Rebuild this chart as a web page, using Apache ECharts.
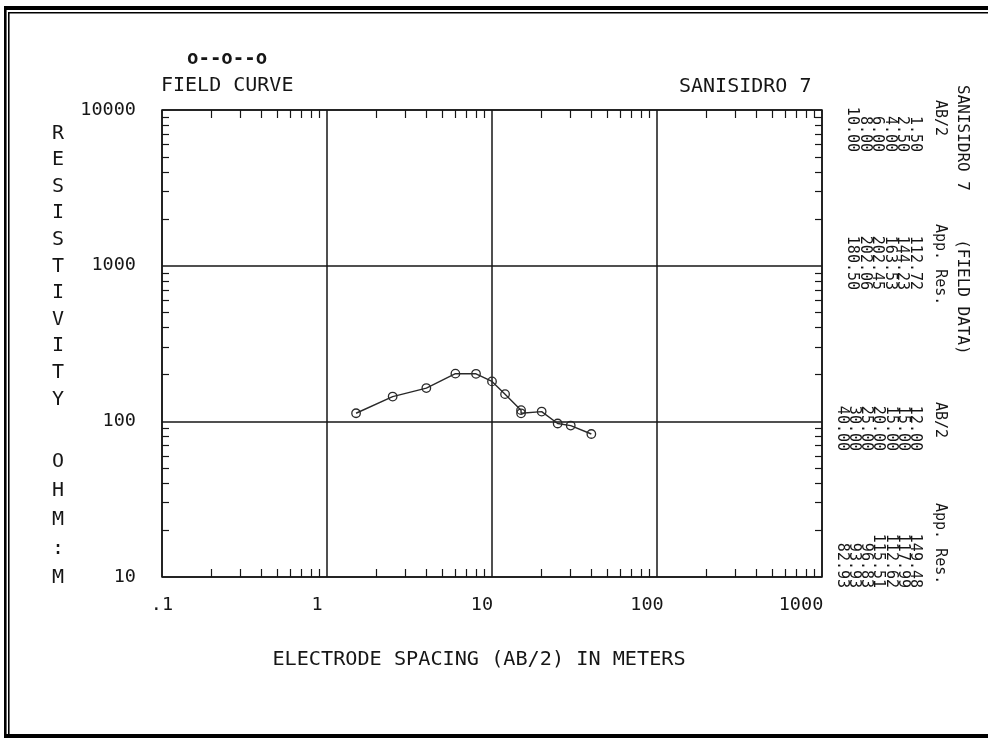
<!DOCTYPE html>
<html>
<head>
<meta charset="utf-8">
<title>SANISIDRO 7 - Field Curve</title>
<script src="https://cdn.jsdelivr.net/npm/echarts@6/dist/echarts.min.js"></script>
<style>
  html, body { margin: 0; padding: 0; background: #fff; }
  #chart { width: 988px; height: 738px; }
</style>
</head>
<body>
<div id="chart"></div>
<script>
// ---- data ----
const ab2 = [1.5, 2.5, 4, 6, 8, 10, 12, 15, 15, 20, 25, 30, 40];
const appRes = [112.72, 144.23, 163.53, 202.45, 202.06, 180.50, 149.48, 117.99, 112.62, 115.51, 96.83, 93.93, 82.93];
const xTickValues = [0.1, 1, 10, 100, 1000];
const xTickLabels = ['.1', '1', '10', '100', '1000'];
const yTickValues = [10, 100, 1000, 10000];
const yTickLabels = ['10', '100', '1000', '10000'];
const legendSample = 'o--o--o';
const curveTitle = 'FIELD CURVE';
const siteName = 'SANISIDRO 7';
const sideTitle = 'SANISIDRO 7     (FIELD DATA)';
const colHeadSpacing = 'AB/2';
const colHeadRes = 'App. Res.';
const xName = 'ELECTRODE SPACING (AB/2) IN METERS';
const yNameTop = 'RESISTIVITY';
const yNameBottom = 'OHM:M';
const upperRows = [0, 6];   // index range of first table block
const lowerRows = [6, 13];  // index range of second table block

// ---- helpers ----
const FONT = "'DejaVu Sans Mono', 'Liberation Mono', monospace";
const INK = '#161616';

function minorTicks(lo, hi) {
  const out = [];
  for (let d = lo; d < hi; d *= 10) {
    for (let k = 2; k <= 9; k++) out.push(+(k * d).toPrecision(6));
  }
  return out;
}
function lookupIndex(values, v) {
  for (let i = 0; i < values.length; i++) {
    if (Math.abs(values[i] - v) / values[i] < 1e-6) return i;
  }
  return -1;
}
function col(arr, range) {
  return arr.slice(range[0], range[1]).map(v => v.toFixed(2)).join('\n');
}

const points = ab2.map((x, i) => [x, appRes[i]]);

const xMinor = minorTicks(0.1, 1000);
const yMinor = minorTicks(10, 10000);

function rotText(x, y, text, opts) {
  return {
    type: 'text',
    x: x, y: y,
    rotation: -Math.PI / 2,
    silent: true,
    style: Object.assign({
      text: text,
      font: '15px ' + FONT,
      fill: INK,
      align: 'left',
      verticalAlign: 'middle'
    }, opts || {})
  };
}

const chart = echarts.init(document.getElementById('chart'), null, { renderer: 'canvas' });

const xAxisBase = {
  type: 'log', logBase: 10, min: 0.1, max: 1000,
  axisLine: { show: false },
  axisTick: { show: true, inside: true, length: 8, customValues: xMinor,
              lineStyle: { color: INK, width: 1.2 } },
  splitLine: { show: false },
  axisLabel: { show: false }
};
const yAxisBase = {
  type: 'log', logBase: 10, min: 10, max: 10000,
  axisLine: { show: false },
  axisTick: { show: true, inside: true, length: 7, customValues: yMinor,
              lineStyle: { color: INK, width: 1.2 } },
  splitLine: { show: false },
  axisLabel: { show: false }
};
// axes that only carry the decade grid lines
const xGridAxis = {
  type: 'log', logBase: 10, min: 0.1, max: 1000, position: 'bottom',
  axisLine: { show: false }, axisTick: { show: false }, axisLabel: { show: false },
  splitLine: { show: true, lineStyle: { color: INK, width: 1.5 } }
};
const yGridAxis = {
  type: 'log', logBase: 10, min: 10, max: 10000, position: 'left',
  axisLine: { show: false }, axisTick: { show: false }, axisLabel: { show: false },
  splitLine: { show: true, lineStyle: { color: INK, width: 1.5 } }
};

const labelRich = {
  a: { fontFamily: FONT, fontSize: 18.5, color: INK, padding: [0, 0, 0, 0] },
  b: { fontFamily: FONT, fontSize: 18.5, color: INK, padding: [0, 20, 0, 0] },
  c: { fontFamily: FONT, fontSize: 18.5, color: INK, padding: [0, 42, 0, 0] }
};
const labelStyleKey = ['a', 'b', 'b', 'b', 'c'];

const option = {
  backgroundColor: '#fff',
  animation: false,
  textStyle: { fontFamily: FONT, color: INK },
  title: [
    { text: legendSample, left: 187, top: 50, padding: 0,
      textStyle: { fontFamily: FONT, fontSize: 19, fontWeight: 'bold', color: INK } },
    { text: curveTitle, left: 161, top: 76, padding: 0,
      textStyle: { fontFamily: FONT, fontSize: 20, fontWeight: 'normal', color: INK } },
    { text: siteName, left: 679, top: 77, padding: 0,
      textStyle: { fontFamily: FONT, fontSize: 20, fontWeight: 'normal', color: INK } }
  ],
  grid: {
    left: 162, right: 166, top: 110, bottom: 161,
    show: true, borderColor: INK, borderWidth: 1.5, backgroundColor: 'transparent'
  },
  xAxis: [
    Object.assign({}, xAxisBase, {
      position: 'bottom',
      axisLabel: {
        show: true, margin: 19, fontFamily: FONT, fontSize: 18.5, color: INK,
        formatter: v => {
          const i = lookupIndex(xTickValues, v);
          return i < 0 ? '' : '{' + labelStyleKey[i] + '|' + xTickLabels[i] + '}';
        },
        rich: labelRich
      },
      name: xName, nameLocation: 'middle', nameGap: 73,
      nameTextStyle: { fontFamily: FONT, fontSize: 20.2, color: INK, padding: [0, 26, 0, 0] }
    }),
    Object.assign({}, xAxisBase, { position: 'top' }),
    xGridAxis
  ],
  yAxis: [
    Object.assign({}, yAxisBase, {
      position: 'left',
      axisLabel: {
        show: true, margin: 26, fontFamily: FONT, fontSize: 18.5, color: INK,
        formatter: v => {
          const i = lookupIndex(yTickValues, v);
          return i < 0 ? '' : yTickLabels[i];
        }
      }
    }),
    Object.assign({}, yAxisBase, { position: 'right' }),
    yGridAxis
  ],
  series: [{
    name: curveTitle,
    type: 'line',
    data: points,
    xAxisIndex: 0, yAxisIndex: 0,
    symbol: 'circle', symbolSize: 8.5,
    lineStyle: { color: '#2a2a2a', width: 1.4 },
    itemStyle: { color: 'rgba(255,255,255,0)', borderColor: '#2a2a2a', borderWidth: 1.3 },
    emphasis: { disabled: true },
    z: 5
  }],
  graphic: [
    // frame
    { type: 'rect', shape: { x: 4, y: 6, width: 984, height: 4 }, style: { fill: '#000' }, silent: true },
    { type: 'rect', shape: { x: 8, y: 12, width: 980, height: 1.6 }, style: { fill: '#000' }, silent: true },
    { type: 'rect', shape: { x: 4, y: 6, width: 2.6, height: 732 }, style: { fill: '#000' }, silent: true },
    { type: 'rect', shape: { x: 8, y: 12, width: 1.6, height: 724 }, style: { fill: '#000' }, silent: true },
    { type: 'rect', shape: { x: 4, y: 734, width: 984, height: 4 }, style: { fill: '#000' }, silent: true },
    // y-axis title (stacked letters)
    { type: 'text', x: 58, y: 120, silent: true,
      style: { text: yNameTop.split('').join('\n'), font: '20px ' + FONT, fill: INK,
               align: 'center', verticalAlign: 'top', lineHeight: 26.6 } },
    { type: 'text', x: 58, y: 447, silent: true,
      style: { text: yNameBottom.split('').join('\n'), font: '20px ' + FONT, fill: INK,
               align: 'center', verticalAlign: 'top', lineHeight: 29 } },
    // right-hand side data listing (rotated)
    rotText(962, 85, sideTitle, { font: '16px ' + FONT }),
    rotText(940, 100, colHeadSpacing),
    rotText(940, 224, colHeadRes),
    rotText(921, 152, col(ab2, upperRows), { align: 'right', verticalAlign: 'top', lineHeight: 12.5 }),
    rotText(921, 290, col(appRes, upperRows), { align: 'right', verticalAlign: 'top', lineHeight: 12.5 }),
    rotText(940, 402, colHeadSpacing),
    rotText(940, 503, colHeadRes),
    rotText(921, 451, col(ab2, lowerRows), { align: 'right', verticalAlign: 'top', lineHeight: 12.2 }),
    rotText(921, 588, col(appRes, lowerRows), { align: 'right', verticalAlign: 'top', lineHeight: 12.2 })
  ]
};

chart.setOption(option);
</script>
</body>
</html>
